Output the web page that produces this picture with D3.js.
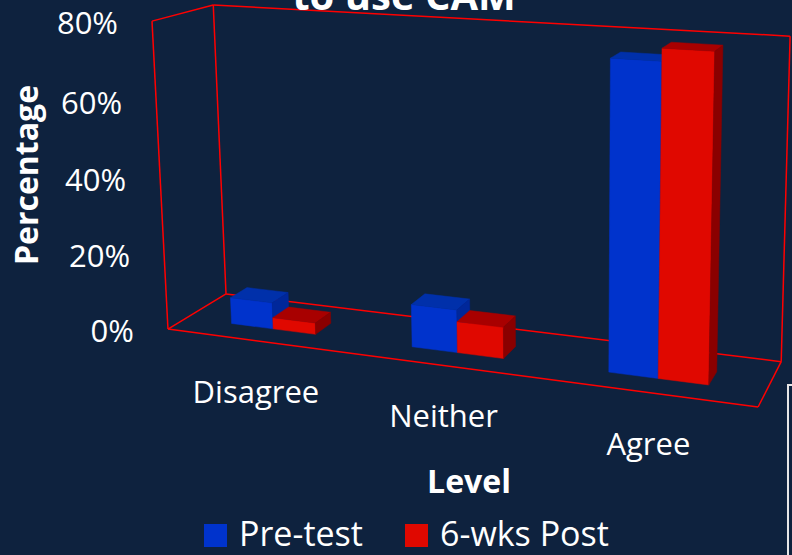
<!DOCTYPE html>
<html>
<head>
<meta charset="utf-8">
<script src="https://cdn.jsdelivr.net/npm/d3@7"></script>
<style>
  html, body { margin: 0; padding: 0; background: #0e223e; }
  svg { display: block; }
  text { font-family: "Open Sans", sans-serif; fill: #ffffff; }
</style>
</head>
<body>
<script>
'use strict';

var categories = ['Disagree', 'Neither', 'Agree'];
var seriesNames = ['Pre-test', '6-wks Post'];
var preTest = [7, 11, 76];
var postTest = [3, 8, 79];
var yTicks = [0, 20, 40, 60, 80];

var width = 792,
  height = 555;

// colours: front, top, side
var shades = {
  'Pre-test': ['#0033cc', '#0030aa', '#00279a'],
  '6-wks Post': ['#e00800', '#a80000', '#8a0000']
};

// box in world units, camera looking down from the front-right
var W = 398.6, H = 208, D = 73;
var psi = 18.45 * Math.PI / 180,
  theta = 10.58 * Math.PI / 180,
  focal = 1499, cx = 570, cy = 58,
  origin = [-268.2, -180.8, 1000];

var ex = [Math.cos(psi), -Math.sin(theta) * Math.sin(psi), -Math.cos(theta) * Math.sin(psi)],
  ey = [0, Math.cos(theta), -Math.sin(theta)],
  ez = [Math.sin(psi), Math.sin(theta) * Math.cos(psi), Math.cos(theta) * Math.cos(psi)];

function project(x, y, z) {
  var p = [0, 1, 2].map(function(i) {
    return origin[i] + x * ex[i] + y * ey[i] + z * ez[i];
  });
  return [cx + focal * p[0] / p[2], cy - focal * p[1] / p[2]];
}

var x = d3.scaleBand().domain(categories).range([0, W])
  .paddingInner(0.524).paddingOuter(0.262);
var xs = d3.scaleBand().domain(seriesNames).range([0, x.bandwidth()]);
var y = d3.scaleLinear().domain([0, 80]).range([0, H]);
var z0 = 22.5, z1 = 44;

var svg = d3.select('body').append('svg')
  .attr('width', width)
  .attr('height', height);

svg.append('rect').attr('width', width).attr('height', height).attr('fill', '#0e223e');

// frame: back wall, left wall, floor
var frame = [
  [[0, 0, D], [0, H, D]],
  [[0, H, D], [W, H, D]],
  [[W, H, D], [W, 0, D]],
  [[0, 0, D], [W, 0, D]],
  [[0, H, 0], [0, H, D]],
  [[0, H, 0], [0, 0, 0]],
  [[0, 0, 0], [0, 0, D]],
  [[0, 0, 0], [W, 0, 0]],
  [[W, 0, 0], [W, 0, D]]
];

var line = d3.line();

svg.append('g').selectAll('path')
  .data(frame)
  .enter().append('path')
  .attr('d', function(seg) {
    return line(seg.map(function(p) { return project(p[0], p[1], p[2]); }));
  })
  .attr('fill', 'none')
  .attr('stroke', '#ff0000')
  .attr('stroke-width', 1.5);

// bars, left to right so nearer ones paint over
var bars = [];
categories.forEach(function(c, i) {
  [preTest, postTest].forEach(function(vals, s) {
    var name = seriesNames[s],
      a = x(c) + xs(name),
      b = a + xs.bandwidth(),
      h = y(vals[i]);
    bars.push({ name: name, a: a, b: b, h: h });
  });
});

var barG = svg.append('g');
bars.forEach(function(d) {
  var faces = [
    [[d.a, 0, z0], [d.b, 0, z0], [d.b, d.h, z0], [d.a, d.h, z0]],
    [[d.a, d.h, z0], [d.b, d.h, z0], [d.b, d.h, z1], [d.a, d.h, z1]],
    [[d.b, 0, z0], [d.b, 0, z1], [d.b, d.h, z1], [d.b, d.h, z0]]
  ];
  var g = barG.append('g');
  faces.forEach(function(f, k) {
    g.append('path')
      .attr('d', line(f.map(function(p) { return project(p[0], p[1], p[2]); })) + 'Z')
      .attr('fill', shades[d.name][k])
      .attr('stroke', shades[d.name][k])
      .attr('stroke-width', 0.5);
  });
});

// value axis labels
svg.append('g').selectAll('text')
  .data(yTicks)
  .enter().append('text')
  .attr('x', function(t) { return project(0, y(t), 0)[0] - 34; })
  .attr('y', function(t) { return project(0, y(t), 0)[1] + 2; })
  .attr('dy', '0.36em')
  .attr('text-anchor', 'end')
  .style('font-size', '31px')
  .text(function(t) { return t + '%'; });

// category labels
svg.append('g').selectAll('text')
  .data(categories)
  .enter().append('text')
  .attr('x', function(c) { return project(x(c) + x.bandwidth() / 2, 0, 0)[0]; })
  .attr('y', function(c) { return project(x(c) + x.bandwidth() / 2, 0, 0)[1] + 62; })
  .attr('text-anchor', 'middle')
  .style('font-size', '31px')
  .text(function(c) { return c; });

svg.append('text')
  .attr('transform', 'translate(38,175) rotate(-90)')
  .attr('text-anchor', 'middle')
  .style('font-size', '32px')
  .style('font-weight', 'bold')
  .text('Percentage');

svg.append('text')
  .attr('x', 469)
  .attr('y', 493)
  .attr('text-anchor', 'middle')
  .style('font-size', '32px')
  .style('font-weight', 'bold')
  .text('Level');

svg.append('text')
  .attr('x', 404)
  .attr('y', 10)
  .attr('text-anchor', 'middle')
  .style('font-size', '40px')
  .style('font-weight', 'bold')
  .text('to use CAM');

// legend
var legend = svg.append('g').selectAll('g')
  .data(seriesNames)
  .enter().append('g')
  .attr('transform', function(d, i) { return 'translate(' + [204, 405][i] + ',524)'; });

legend.append('rect')
  .attr('width', 23)
  .attr('height', 23)
  .attr('fill', function(d) { return shades[d][0]; });

legend.append('text')
  .attr('x', 35)
  .attr('y', 22)
  .style('font-size', '34px')
  .text(function(d) { return d; });

// edge of a text box at the bottom right
svg.append('rect')
  .attr('x', 788)
  .attr('y', 385)
  .attr('width', 20)
  .attr('height', 200)
  .attr('fill', 'none')
  .attr('stroke', '#e6e6e6')
  .attr('stroke-width', 2);
</script>
</body>
</html>
